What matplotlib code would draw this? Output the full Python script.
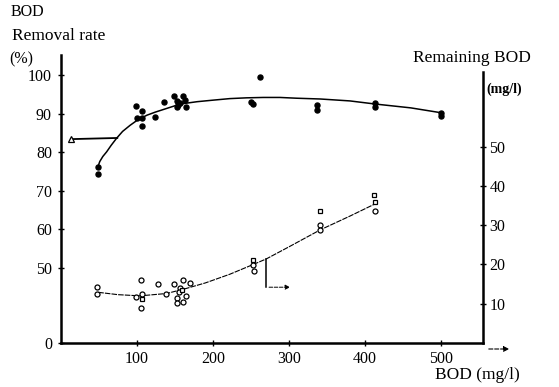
import matplotlib
matplotlib.use("Agg")
import matplotlib.pyplot as plt

plt.rcParams["font.family"] = ["Liberation Serif", "DejaVu Serif"]

# Removal rate (%) - measured points
rate_bod = [49, 49, 99, 107, 100, 107, 107, 124, 135, 149, 160, 153, 163, 154,
            152, 157, 164, 262, 250, 253, 337, 337, 413, 413, 500, 500]
rate_pct = [76.2, 74.4, 92.0, 90.7, 89.0, 88.8, 86.9, 89.2, 92.9, 94.6, 94.7, 93.3,
            93.5, 92.2, 91.8, 92.7, 91.8, 99.4, 92.9, 92.4, 92.2, 90.9, 92.7, 91.7,
            90.2, 89.4]

# Removal rate - fitted curve
rate_curve_bod = [49, 51, 55, 60, 66, 73, 81, 91, 101, 113, 124, 135, 157, 179, 200,
                  222, 244, 266, 288, 310, 341, 380, 413, 460, 501]
rate_curve_pct = [76.5, 77.6, 78.9, 80.1, 81.8, 83.6, 85.4, 87.0, 88.4, 89.6, 90.4,
                  91.1, 92.5, 93.1, 93.5, 93.9, 94.1, 94.2, 94.2, 94.0, 93.8, 93.3,
                  92.5, 91.5, 90.2]

# flat segment with triangle at its start
flat_bod = [13, 74]
flat_pct = [83.4, 83.7]

# Remaining BOD (mg/l) - measured points
rem_bod = [48, 48, 105, 106, 99, 105, 127, 138, 149, 160, 157, 155, 152, 164,
           152, 161, 169, 253, 254, 341, 340, 413]
rem_val = [14.3, 12.5, 16.0, 12.5, 11.6, 8.8, 14.9, 12.4, 15.0, 16.0, 13.9, 13.1,
           11.4, 12.0, 10.1, 10.4, 15.2, 19.8, 18.4, 30.0, 28.8, 33.7]
rem_sq_bod = [107, 159, 253, 340, 412, 413]
rem_sq_val = [11.1, 13.5, 21.1, 33.7, 37.7, 36.0]

# Remaining BOD - fitted curve
rem_curve_bod = [49, 75, 104, 139, 165, 190, 222, 253, 270, 301, 341, 380, 413]
rem_curve_val = [12.9, 12.3, 12.0, 12.6, 13.9, 15.3, 17.5, 20.0, 21.4, 24.6, 28.8,
                 32.3, 35.4]

# bracket annotation below the lower curve
bracket_x = [270, 270]
bracket_y = [21.4, 14.2]
bracket_end = 305

x_ticks = [100, 200, 300, 400, 500]
rate_ticks = [50, 60, 70, 80, 90, 100]
rem_ticks = [10, 20, 30, 40, 50]

W, H = 559, 387
fig = plt.figure(figsize=(W / 100, H / 100), dpi=100)
ax = fig.add_axes([61 / W, 44 / H, 422 / W, 288 / H])
ax2 = ax.twinx()

r_bottom, r_top = 30.57, 105.2
ax.set_xlim(0, 555)
ax.set_ylim(r_bottom, r_top)
ax2.set_ylim(0, 73.3)

# upper: removal rate
ax.plot(rate_curve_bod, rate_curve_pct, color="black", lw=1.1)
ax.plot(flat_bod, flat_pct, color="black", lw=1.3)
ax.plot(flat_bod[0], flat_pct[0], marker="^", ms=4, mfc="white", mec="black", mew=0.9)
ax.plot(rate_bod, rate_pct, "o", ms=3.6, color="black")

# lower: remaining BOD
ax2.plot(rem_curve_bod, rem_curve_val, color="black", lw=0.8, ls=(0, (5, 1)))
ax2.plot(rem_bod, rem_val, "o", ms=3.6, mfc="white", mec="black", mew=0.9)
ax2.plot(rem_sq_bod, rem_sq_val, "s", ms=3.4, mfc="white", mec="black", mew=0.9)
ax2.plot(bracket_x, bracket_y, color="black", lw=1.1)
ax2.annotate("", xy=(bracket_end, bracket_y[1]), xytext=(bracket_x[1], bracket_y[1]),
             arrowprops=dict(arrowstyle="-|>", color="black", lw=0.7, ls="--",
                             mutation_scale=7))

# axes styling
for s in ["top", "right"]:
    ax.spines[s].set_visible(False)
for s in ["top", "left", "bottom"]:
    ax2.spines[s].set_visible(False)
ax.spines["left"].set_linewidth(1.8)
ax.spines["bottom"].set_linewidth(1.8)
ax2.spines["right"].set_linewidth(1.8)
ax2.spines["right"].set_bounds(0, 69)

ax.set_xticks(x_ticks)
ax.set_yticks([r_bottom] + rate_ticks)
ax.set_yticklabels(["0"] + [str(t) for t in rate_ticks])
ax2.set_yticks(rem_ticks)
ax.tick_params(direction="inout", length=5, width=1, labelsize=11.5, pad=3)
ax.tick_params(axis="y", pad=4)
ax2.tick_params(direction="inout", length=5, width=1, labelsize=11.5, pad=2)

# labels
fig.text(11 / W, 1 - 12 / H, "BOD", fontsize=11.5, va="center", ha="left")
fig.text(12 / W, 1 - 36 / H, "Removal rate", fontsize=12.5, va="center", ha="left")
fig.text(9 / W, 1 - 59 / H, "(%)", fontsize=11.5, va="center", ha="left")
fig.text(413 / W, 1 - 58 / H, "Remaining BOD", fontsize=12.5, va="center", ha="left")
fig.text(486 / W, 1 - 89 / H, "(mg/l)", fontsize=10, va="center", ha="left",
         weight="bold")
fig.text(435 / W, 1 - 375 / H, "BOD (mg/l)", fontsize=12.5, va="center", ha="left")
fig.patches.append(matplotlib.patches.FancyArrowPatch(
    (486 / W, 1 - 349 / H), (512 / W, 1 - 349 / H), transform=fig.transFigure,
    arrowstyle="-|>", mutation_scale=8, color="black", lw=0.8, ls="--"))

fig.savefig("out.png", dpi=100)
